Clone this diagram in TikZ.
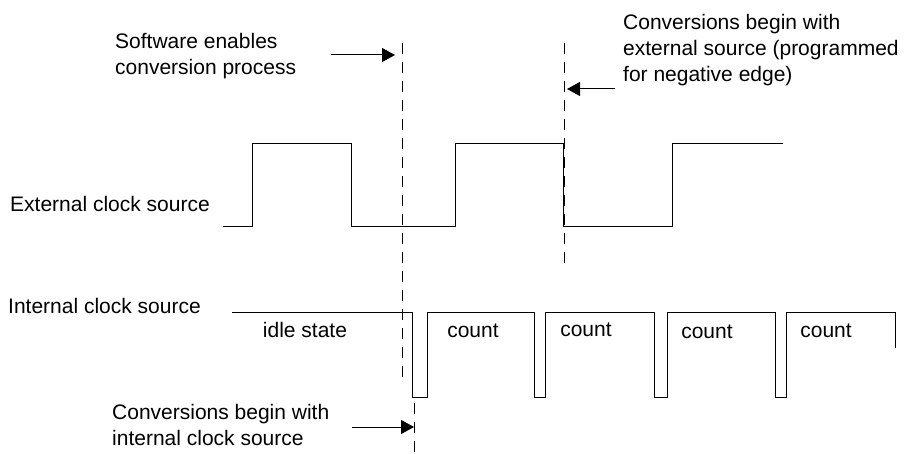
\documentclass[tikz,border=0pt]{standalone}
\usepackage{fontspec}
\setmainfont{Liberation Sans}
\usetikzlibrary{arrows.meta}
\begin{document}
\begin{tikzpicture}[x=1pt,y=-1pt,
  lbl/.style={inner sep=0pt,font=\fontsize{21}{26}\selectfont,align=left},
  wave/.style={line width=1pt,line join=miter},
  guide/.style={line width=1pt,dash pattern=on 11pt off 8pt},
  pointer/.style={line width=1pt,-{Triangle[length=13pt,width=14pt]}}]
\useasboundingbox (0,0) rectangle (907,454);
% texts
\node[lbl,anchor=north west] (sw) at (115,33) {Software enables\\conversion process};
\node[lbl,anchor=north west] (ext) at (623,14) {Conversions begin with\\external source (programmed\\for negative edge)};
\node[lbl,anchor=base west] (extclk) at (10,212) {External clock source};
\node[lbl,anchor=base west] (intclk) at (8,313) {Internal clock source};
\node[lbl,anchor=north west] (intb) at (112,404) {Conversions begin with\\internal clock source};
\node[lbl,anchor=base] (idle) at (305,337) {idle state};
\node[lbl,anchor=base] (c1) at (473,337) {count};
\node[lbl,anchor=base] (c2) at (586,336) {count};
\node[lbl,anchor=base] (c3) at (707,338) {count};
\node[lbl,anchor=base] (c4) at (826,337) {count};
% external clock
\draw[wave] (223,227) -- (252,227) -- (252,144) -- (351,144) -- (351,227) -- (455,227)
  -- (455,144) -- (563,144) -- (563,227) -- (672,227) -- (672,144) -- (783,144);
% internal clock
\draw[wave] (232,312) -- (412,312) -- (412,397) -- (427,397) -- (427,312)
  -- (534,312) -- (534,397) -- (545,397) -- (545,312)
  -- (654,312) -- (654,397) -- (667,397) -- (667,312)
  -- (775,312) -- (775,397) -- (786,397) -- (786,312)
  -- (895,312) -- (895,348);
% dashed guides
\coordinate (d1t) at (402,43); \coordinate (d1b) at (402,384);
\coordinate (d2t) at (564,43); \coordinate (d2b) at (564,270);
\coordinate (d3t) at (414,403); \coordinate (d3b) at (414,454);
\draw[guide] (d1t) -- (d1b);
\draw[guide] (d2t) -- (d2b);
\draw[guide] (d3t) -- (d3b);
% arrows
\coordinate (a1s) at (331,55); \coordinate (a1e) at (395,55);
\coordinate (a2s) at (615,89); \coordinate (a2e) at (567,89);
\coordinate (a3s) at (352,427); \coordinate (a3e) at (414,427);
\draw[pointer] (a1s) -- (a1e);
\draw[pointer] (a2s) -- (a2e);
\draw[pointer] (a3s) -- (a3e);
\end{tikzpicture}
\end{document}
